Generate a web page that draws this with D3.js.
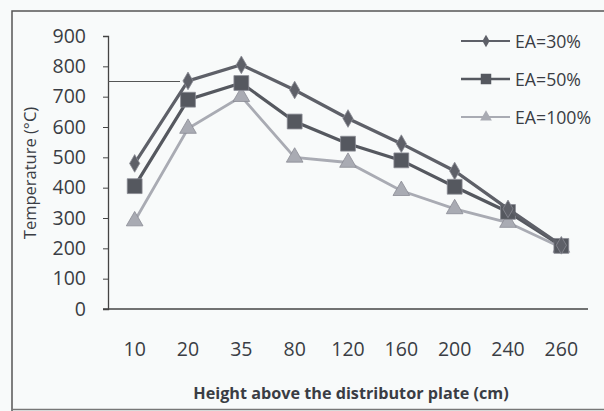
<!DOCTYPE html>
<html><head><meta charset="utf-8">
<script src="https://cdn.jsdelivr.net/npm/d3@7"></script>
<style>body{margin:0;background:#f8fafa;}svg{display:block;}</style>
</head><body>
<svg id="c" width="604" height="411"></svg>
<script>
const categories = ["10","20","35","80","120","160","200","240","260"];
const ea30 = [480,752,805,722,628,545,455,330,210];
const ea50 = [405,690,745,618,545,490,403,320,208];
const ea100 = [290,595,700,500,483,390,330,285,203];
const yTicks = [0,100,200,300,400,500,600,700,800,900];
const seriesNames = ["EA=30%","EA=50%","EA=100%"];

const svg = d3.select("#c");
const m = {l:108, r:588, t:36, b:309};
const x = d3.scalePoint().domain(categories).range([m.l, m.r]).padding(0.5);
const y = d3.scaleLinear().domain([0,900]).range([m.b, m.t]);
const txt = "#3a3d44";
const font = "Open Sans, sans-serif";

// frame
svg.append("path").attr("d","M12,411 L12,11 L604,11").attr("fill","none").attr("stroke","#555").attr("stroke-width",1.5);
svg.append("line").attr("x1",12).attr("x2",604).attr("y1",409.5).attr("y2",409.5).attr("stroke","#777").attr("stroke-width",1.5);

// y axis
const ya = svg.append("g").attr("transform",`translate(${m.l},0)`)
  .call(d3.axisLeft(y).tickValues(yTicks).tickSize(5).tickPadding(17));
ya.select(".domain").attr("stroke","#444").attr("stroke-width",1.3);
ya.selectAll(".tick line").attr("stroke","#444");
ya.selectAll("text").attr("font-family",font).attr("font-size",19.5).attr("fill",txt);

// x axis line
svg.append("line").attr("x1",m.l-5).attr("x2",m.r).attr("y1",m.b).attr("y2",m.b).attr("stroke","#444").attr("stroke-width",1.3);
svg.append("g").selectAll("text").data(categories).join("text")
  .attr("x",d=>x(d)).attr("y",356).attr("text-anchor","middle")
  .attr("font-family",font).attr("font-size",19.5).attr("fill",txt).text(d=>d);

// reference line at 750
svg.append("line").attr("x1",m.l).attr("x2",180).attr("y1",y(750)).attr("y2",y(750)).attr("stroke","#555").attr("stroke-width",1.2);

// titles
svg.append("text").attr("x",351).attr("y",399).attr("text-anchor","middle")
  .attr("font-family",font).attr("font-weight","bold").attr("font-size",16.2).attr("fill",txt)
  .text("Height above the distributor plate (cm)");
svg.append("text").attr("transform","translate(36,173) rotate(-90)").attr("text-anchor","middle")
  .attr("font-family",font).attr("font-size",16.5).attr("fill",txt)
  .text("Temperature (°C)");

const defs = [
  {name:seriesNames[0], data:ea30, color:"#5e6068", w:3.2, sym:d3.symbolDiamond, size:90},
  {name:seriesNames[1], data:ea50, color:"#55585f", w:3.2, sym:d3.symbolSquare, size:220},
  {name:seriesNames[2], data:ea100, color:"#a9abb3", w:2.8, sym:d3.symbolTriangle, size:120}
];
const line = d3.line().x((d,i)=>x(categories[i])).y(d=>y(d));
defs.slice().reverse().forEach(s=>{
  svg.append("path").datum(s.data).attr("d",line).attr("fill","none").attr("stroke",s.color).attr("stroke-width",s.w);
  svg.append("g").selectAll("path").data(s.data).join("path")
    .attr("transform",(d,i)=>`translate(${x(categories[i])},${y(d)})`)
    .attr("d",d3.symbol().type(s.sym).size(s.size)).attr("fill",s.color).attr("stroke","#8a8c94").attr("stroke-width",0.8);
});

// legend
const ly = [41,79,117];
defs.forEach((s,i)=>{
  const g = svg.append("g").attr("transform",`translate(0,${ly[i]})`);
  g.append("line").attr("x1",461).attr("x2",510).attr("stroke",s.color).attr("stroke-width",i==1?2.5:1.8);
  g.append("path").attr("transform","translate(486,0)").attr("d",d3.symbol().type(s.sym).size(s.size*0.5)).attr("fill",s.color);
  g.append("text").attr("x",515).attr("y",6.5).attr("font-family",font).attr("font-size",17.7).attr("fill",txt).text(s.name);
});
</script>
</body></html>
